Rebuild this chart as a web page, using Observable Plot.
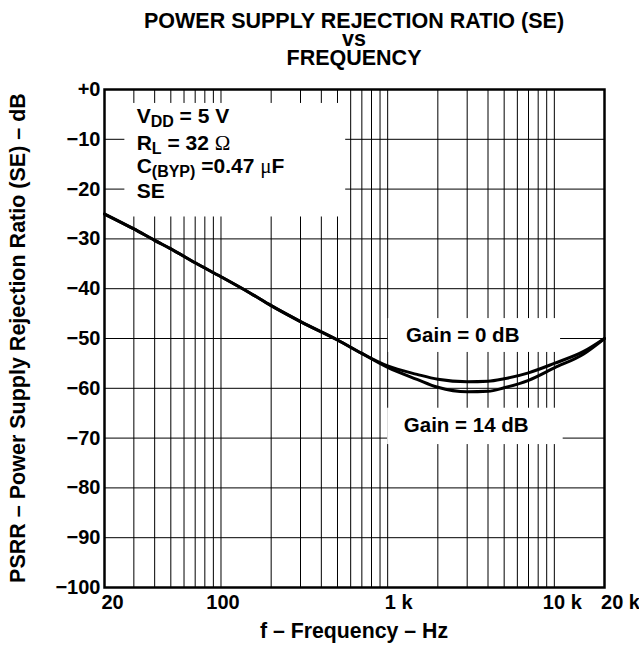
<!DOCTYPE html>
<html><head><meta charset="utf-8">
<script src="https://cdn.jsdelivr.net/npm/d3@7"></script>
<script src="https://cdn.jsdelivr.net/npm/@observablehq/plot@0.6"></script>
<style>
body{margin:0;background:#fff;}
#chart svg{display:block;font-family:"Liberation Sans",Arial,Helvetica,sans-serif;font-weight:bold;}
</style>
</head><body><div id="chart"></div>
<script>
// ---- data ----
const freq   = [20, 30, 40, 50, 70, 100, 150, 200, 300, 500, 700, 1000, 1500, 2000, 3000, 4000, 5000, 7000, 10000, 15000, 20000];
const gain0  = [-25, -28, -30.3, -32, -34.8, -37.6, -40.9, -43.4, -46.6, -50.3, -53, -55.5, -57.2, -58.2, -58.7, -58.6, -58.1, -56.9, -55, -52.6, -50];
const gain14 = [-25, -28, -30.3, -32, -34.8, -37.6, -40.9, -43.4, -46.6, -50.3, -53, -55.8, -58.2, -59.8, -60.7, -60.6, -59.9, -58.4, -55.9, -53.1, -50];
const seriesNames = ["Gain = 0 dB", "Gain = 14 dB"];
const yTicks = [0, -10, -20, -30, -40, -50, -60, -70, -80, -90, -100];
const yTickLabels = ["+0", "−10", "−20", "−30", "−40", "−50", "−60", "−70", "−80", "−90", "−100"];
const xTicks = [20, 100, 1000, 10000, 20000];
const xTickLabels = ["20", "100", "1 k", "10 k", "20 k"];
const xGrid = [30, 40, 50, 60, 70, 80, 90, 100, 200, 300, 400, 500, 600, 700, 800, 900, 1000, 2000, 3000, 4000, 5000, 6000, 7000, 8000, 9000, 10000];
const yGrid = [-10, -20, -30, -40, -50, -60, -70, -80, -90];
const titleLines = ["POWER SUPPLY REJECTION RATIO (SE)", "vs", "FREQUENCY"];
const xTitle = "f – Frequency – Hz";
const yTitle = "PSRR – Power Supply Rejection Ratio (SE) – dB";

const rows = [];
freq.forEach((f, i) => {
  rows.push({f, v: gain0[i], s: seriesNames[0]});
  rows.push({f, v: gain14[i], s: seriesNames[1]});
});

// ---- layout ----
const W = 639, H = 651;
const M = {top: 89, left: 104, right: 35, bottom: 64};
const FS = 20;
const xNudge = [8, 2, 11, 8, 16];

const plot = Plot.plot({
  width: W, height: H,
  marginTop: M.top, marginLeft: M.left, marginRight: M.right, marginBottom: M.bottom,
  x: {type: "log", domain: [20, 20000], axis: null},
  y: {domain: [-100, 0], axis: null},
  marks: [
    Plot.ruleX(xGrid, {stroke: "#000", strokeWidth: 1}),
    Plot.ruleY(yGrid, {stroke: "#000", strokeWidth: 1}),
    // white boxes behind annotations
    Plot.rect([{x1: 26.5, x2: 560, y1: -2.8, y2: -25.6}], {x1: "x1", x2: "x2", y1: "y1", y2: "y2", fill: "white"}),
    Plot.rect([{x1: 1010, x2: 10900, y1: -46, y2: -52.8}], {x1: "x1", x2: "x2", y1: "y1", y2: "y2", fill: "white"}),
    Plot.rect([{x1: 1000, x2: 11300, y1: -64, y2: -71.3}], {x1: "x1", x2: "x2", y1: "y1", y2: "y2", fill: "white"}),
    Plot.line(rows, {x: "f", y: "v", z: "s", stroke: "#000", strokeWidth: 3, curve: "monotone-x"}),
    Plot.frame({stroke: "#000", strokeWidth: 2.5}),
    Plot.text(yTicks, {x: 20, y: d => d, text: (d, i) => yTickLabels[i], textAnchor: "end", dx: -4, fontSize: FS, fontWeight: "bold", fill: "#000"}),
    ...xTicks.map((t, i) => Plot.text([t], {x: d => d, y: -100, text: [xTickLabels[i]], frameAnchor: "bottom", lineAnchor: "top", dy: 7, dx: xNudge[i], fontSize: FS, fontWeight: "bold", fill: "#000"})),
    Plot.text([{f: 1290, v: -50.8, t: seriesNames[0]}], {x: "f", y: "v", text: "t", textAnchor: "start", lineAnchor: "bottom", fontSize: 20.5, fontWeight: "bold", fill: "#000"}),
    Plot.text([{f: 1250, v: -68.8, t: seriesNames[1]}], {x: "f", y: "v", text: "t", textAnchor: "start", lineAnchor: "bottom", fontSize: 20.5, fontWeight: "bold", fill: "#000"})
  ]
});
document.getElementById("chart").appendChild(plot);

// ---- static text via scales ----
const svg = d3.select(plot);
const sx = plot.scale("x"), sy = plot.scale("y");
const cx = (sx.range[0] + sx.range[1]) / 2;
const tb = [28, 46, 65];
titleLines.forEach((t, i) => {
  svg.append("text").attr("x", cx).attr("y", tb[i]).attr("text-anchor", "middle")
    .attr("font-size", 21.5).attr("font-weight", "bold").text(t);
});
svg.append("text").attr("x", cx).attr("y", 638).attr("text-anchor", "middle")
  .attr("font-size", 21.3).attr("font-weight", "bold").text(xTitle);
svg.append("text").attr("transform", `translate(25,${(sy.range[0] + sy.range[1]) / 2}) rotate(-90)`)
  .attr("text-anchor", "middle").attr("font-size", 21.5).attr("font-weight", "bold").text(yTitle);

// legend block with subscripts
const lx = sx.apply(31.4);
const legendLines = [
  [["V", 0], ["DD", 1], [" = 5 V", 0]],
  [["R", 0], ["L", 1], [" = 32 ", 0], ["Ω", 2]],
  [["C", 0], ["(BYP)", 1], [" =0.47 ", 0], ["μ", 2], ["F", 0]],
  [["SE", 0]]
];
const legendY = [-6.9, -12.2, -16.9, -21.9];
legendLines.forEach((parts, i) => {
  const t = svg.append("text").attr("x", lx).attr("y", sy.apply(legendY[i]))
    .attr("text-anchor", "start").attr("font-size", 21).attr("font-weight", "bold");
  let shifted = 0;
  parts.forEach(([s, kind]) => {
    const ts = t.append("tspan").text(s);
    const target = kind === 1 ? 4 : 0;
    if (target !== shifted) { ts.attr("dy", target - shifted); shifted = target; }
    if (kind === 1) ts.attr("font-size", 16);
    if (kind === 2) ts.attr("font-weight", "normal").attr("font-family", "'Liberation Serif', serif");
  });
});
</script>
</body></html>
